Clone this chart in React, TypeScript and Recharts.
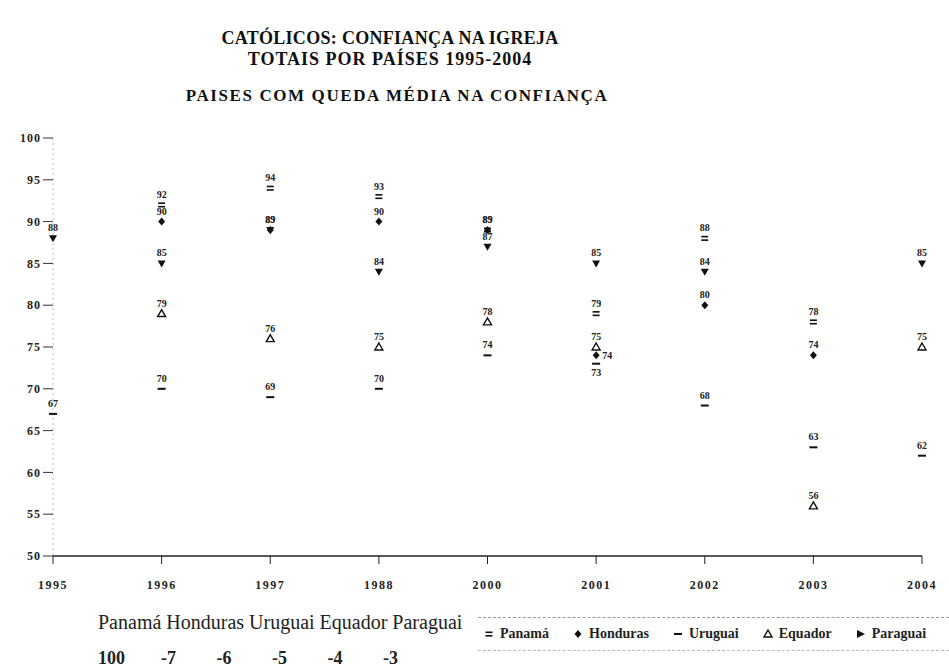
import { LineChart, Line, XAxis, YAxis, LabelList, Legend } from 'recharts';

const years = ['1995', '1996', '1997', '1988', '2000', '2001', '2002', '2003', '2004'];
const panama = [null, 92, 94, 93, 89, 79, 88, 78, null];
const honduras = [null, 90, 89, 90, 89, 74, 80, 74, null];
const uruguai = [67, 70, 69, 70, 74, 73, 68, 63, 62];
const equador = [null, 79, 76, 75, 78, 75, null, 56, 75];
const paraguai = [88, 85, 89, 84, 87, 85, 84, null, 85];
const yTicks = [50, 55, 60, 65, 70, 75, 80, 85, 90, 95, 100];

const data = years.map((year, i) => ({
  year,
  panama: panama[i],
  honduras: honduras[i],
  uruguai: uruguai[i],
  equador: equador[i],
  paraguai: paraguai[i],
}));

const SERIF = "'Liberation Serif', 'DejaVu Serif', serif";

// where a value label goes when points crowd together (default: above the mark)
const labelSide: Record<string, Record<number, string>> = {
  honduras: { 5: 'right' },
  uruguai: { 5: 'bottom' },
};

// small black glyph-like markers, as in the scanned original
function Marker({ kind, x, y }: { kind: string; x: number; y: number }) {
  switch (kind) {
    case 'panama':
      return (
        <g>
          <rect x={x - 3.5} y={y - 2.5} width={7} height={1.6} fill="#111" />
          <rect x={x - 3.5} y={y + 1} width={7} height={1.6} fill="#111" />
        </g>
      );
    case 'honduras':
      return <path d={`M${x},${y - 4} L${x + 3.5},${y} L${x},${y + 4} L${x - 3.5},${y} Z`} fill="#111" />;
    case 'uruguai':
      return <rect x={x - 4} y={y - 1} width={8} height={2} fill="#111" />;
    case 'equador':
      return <path d={`M${x},${y - 4} L${x + 4},${y + 3} L${x - 4},${y + 3} Z`} fill="none" stroke="#111" strokeWidth={1.4} />;
    default:
      return <path d={`M${x - 4},${y - 3} L${x + 4},${y - 3} L${x},${y + 4} Z`} fill="#111" />;
  }
}

const makeDot = (kind: string) => (props: any) => {
  const { cx, cy, value, index } = props;
  if (value == null || cx == null || cy == null) return <g key={`${kind}-${index}`} />;
  return (
    <g key={`${kind}-${index}`}>
      <Marker kind={kind} x={cx} y={cy} />
    </g>
  );
};

const makeLabel = (kind: string) => (props: any) => {
  const { x, y, value, index } = props;
  if (value == null || x == null || y == null) return null;
  const side = (labelSide[kind] || {})[index] || 'top';
  let tx = x;
  let ty = y - 7;
  let anchor = 'middle';
  if (side === 'right') {
    tx = x + 6;
    ty = y + 3.5;
    anchor = 'start';
  } else if (side === 'bottom') {
    ty = y + 12;
  }
  return (
    <text x={tx} y={ty} textAnchor={anchor} fill="#222" fontFamily={SERIF} fontWeight="bold" fontSize={10}>
      {value}
    </text>
  );
};

const seriesList = [
  { key: 'panama', name: 'Panamá' },
  { key: 'honduras', name: 'Honduras' },
  { key: 'uruguai', name: 'Uruguai' },
  { key: 'equador', name: 'Equador' },
  { key: 'paraguai', name: 'Paraguai' },
];

function LegendBox() {
  return (
    <div
      style={{
        borderTop: '1px dashed #999',
        borderBottom: '1px dashed #bbb',
        height: 32,
        display: 'flex',
        alignItems: 'center',
        gap: 24,
        paddingLeft: 6,
        fontFamily: SERIF,
        fontSize: 14,
        fontWeight: 'bold',
        color: '#222',
      }}
    >
      {seriesList.map((s) => (
        <span key={s.key} style={{ display: 'flex', alignItems: 'center', gap: 6 }}>
          <svg width={10} height={10}>
            {s.key === 'paraguai' ? (
              <path d="M1,1 L9,5 L1,9 Z" fill="#111" />
            ) : (
              <Marker kind={s.key} x={5} y={5} />
            )}
          </svg>
          {s.name}
        </span>
      ))}
    </div>
  );
}

export default function App() {
  return (
    <div style={{ position: 'absolute', left: 0, top: 0, width: 949, height: 670, overflow: 'hidden', background: '#fff' }}>
      <div style={{ position: 'absolute', left: 0, width: 780, top: 28, textAlign: 'center', fontFamily: SERIF, fontWeight: 'bold', fontSize: 18, lineHeight: '21px', color: '#111', letterSpacing: 0.3 }}>
        CATÓLICOS: CONFIANÇA NA IGREJA
        <br />
        <span style={{ letterSpacing: 1 }}>TOTAIS POR PAÍSES 1995-2004</span>
      </div>
      <div style={{ position: 'absolute', left: 0, width: 794, top: 86, textAlign: 'center', fontFamily: SERIF, fontWeight: 'bold', fontSize: 17, letterSpacing: 1.6, color: '#111' }}>
        PAISES COM QUEDA MÉDIA NA CONFIANÇA
      </div>

      <div style={{ position: 'absolute', left: 0, top: 0 }}>
        <LineChart width={949} height={670} data={data} margin={{ top: 138, right: 27, bottom: 51, left: 8 }}>
          <XAxis
            dataKey="year"
            axisLine={{ stroke: '#222', strokeWidth: 1.5 }}
            tickLine={{ stroke: '#222' }}
            tickSize={8}
            tick={{ fill: '#222', fontFamily: SERIF, fontWeight: 'bold', fontSize: 12, letterSpacing: 1.5 }}
            tickMargin={16}
            height={30}
          />
          <YAxis
            domain={[50, 100]}
            ticks={yTicks}
            width={45}
            axisLine={{ stroke: '#bbb', strokeDasharray: '2 3' }}
            tickLine={{ stroke: '#333' }}
            tickSize={10}
            tick={{ fill: '#222', fontFamily: SERIF, fontWeight: 'bold', fontSize: 12, letterSpacing: 1 }}
          />
          <Legend
            verticalAlign="bottom"
            wrapperStyle={{ position: 'absolute', left: 478, top: 617, width: 471, height: 33 }}
            content={() => <LegendBox />}
          />
          {seriesList.map((s) => (
            <Line
              key={s.key}
              dataKey={s.key}
              name={s.name}
              stroke="none"
              strokeWidth={0}
              dot={makeDot(s.key)}
              activeDot={false}
              isAnimationActive={false}
            >
              <LabelList dataKey={s.key} content={makeLabel(s.key)} />
            </Line>
          ))}
        </LineChart>
      </div>

      <div style={{ position: 'absolute', left: 98, top: 611, fontFamily: SERIF, fontSize: 20, color: '#222', whiteSpace: 'pre' }}>
        Panamá Honduras Uruguai Equador Paraguai
      </div>
      <div style={{ position: 'absolute', left: 98, top: 648, fontFamily: SERIF, fontSize: 18, fontWeight: 'bold', color: '#222', whiteSpace: 'pre' }}>
        {'100        -7         -6         -5         -4         -3'}
      </div>
    </div>
  );
}
